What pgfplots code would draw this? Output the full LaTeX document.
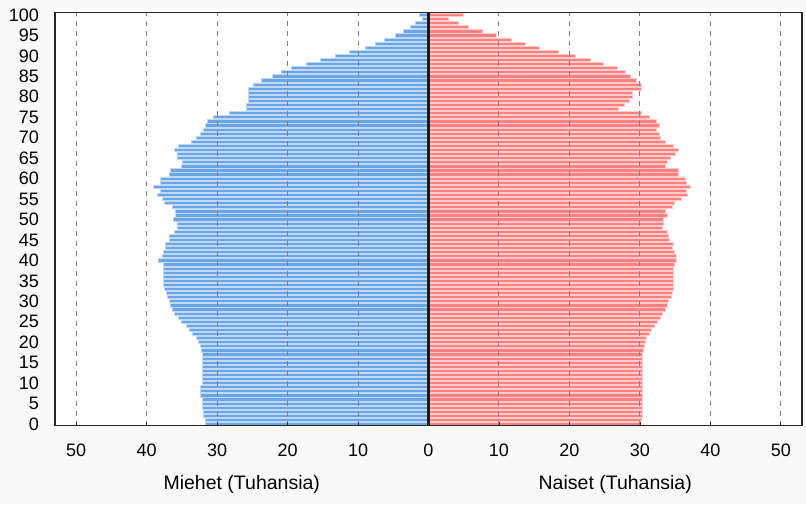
\documentclass[border=0pt]{standalone}
\usepackage{fontspec}
\setmainfont{Liberation Sans}
\usepackage{pgfplots}
\usepackage{pgfplotstable}
\pgfplotsset{compat=1.18}
\definecolor{mblue}{RGB}{106,165,229}
\definecolor{mbluel}{RGB}{192,216,243}
\definecolor{fred}{RGB}{255,128,128}
\definecolor{fredl}{RGB}{255,202,202}
\definecolor{bggray}{RGB}{249,249,249}
\pgfplotstableread{
age m f
0 31.6 30.1
1 31.7 30.2
2 31.9 30.4
3 32.0 30.4
4 32.1 30.4
5 32.1 30.4
6 32.1 30.4
7 32.4 30.4
8 32.4 30.4
9 32.3 30.4
10 32.1 30.4
11 32.1 30.4
12 32.1 30.4
13 32.1 30.4
14 32.1 30.4
15 32.1 30.4
16 32.1 30.4
17 32.1 30.4
18 32.2 30.5
19 32.4 30.6
20 32.7 30.8
21 32.9 30.9
22 33.5 31.3
23 33.9 31.6
24 34.4 32.1
25 35.0 32.5
26 35.5 32.9
27 36.0 33.2
28 36.4 33.6
29 36.6 33.9
30 36.8 34.1
31 37.0 34.4
32 37.2 34.6
33 37.5 34.7
34 37.6 34.7
35 37.6 34.7
36 37.6 34.7
37 37.6 34.7
38 37.6 34.7
39 37.6 34.9
40 38.3 35.2
41 37.8 35.2
42 37.6 34.9
43 37.3 34.6
44 37.3 34.7
45 36.7 34.2
46 36.7 34.1
47 36.0 33.9
48 35.7 33.2
49 35.7 33.4
50 36.2 33.4
51 35.9 33.9
52 35.9 33.6
53 36.4 34.6
54 37.5 34.9
55 37.8 35.9
56 38.5 36.8
57 38.0 36.6
58 39.0 37.1
59 38.0 36.6
60 38.0 36.4
61 36.7 35.4
62 36.6 35.4
63 35.0 33.6
64 34.9 33.9
65 35.7 34.3
66 35.7 35.0
67 36.0 35.5
68 35.5 34.8
69 33.7 33.6
70 33.0 32.9
71 32.3 32.8
72 32.0 32.3
73 31.6 32.8
74 31.4 32.3
75 30.5 31.3
76 28.3 30.2
77 25.8 27.0
78 25.8 27.8
79 25.6 28.5
80 25.6 28.9
81 25.6 28.9
82 25.6 30.2
83 24.9 30.2
84 23.7 29.5
85 22.2 28.7
86 20.9 28.0
87 19.5 26.8
88 17.3 24.8
89 15.3 23.0
90 13.2 20.9
91 11.2 18.4
92 8.9 15.7
93 7.5 13.8
94 6.2 11.8
95 4.7 9.6
96 3.5 7.7
97 2.5 5.7
98 1.8 4.3
99 0.9 2.8
100 1.3 5.0
}\pyramid
\begin{document}
\fontsize{18}{21}\selectfont
\begin{tikzpicture}
\path[use as bounding box, fill=bggray] (0,0) rectangle (806pt,504pt);
\begin{axis}[
  at={(55pt,78.3pt)}, anchor=south west,
  scale only axis, width=747pt, height=413pt,
  xmin=-53, xmax=53, ymin=-0.42, ymax=100.56,
  clip mode=individual,
  axis background/.style={fill=white},
  axis line style={line width=1.3pt, black!85},
  ytick={0,5,...,100},
  ytick style={draw=none},
  xtick={-50,-40,-30,-20,-10,10,20,30,40,50},
  extra x ticks={0},
  xticklabel={\pgfmathparse{abs(\tick)}\pgfmathprintnumber{\pgfmathresult}},
  xmajorgrids,
  grid style={gray, line width=1pt, dash pattern=on 5pt off 5pt},
  extra x tick style={grid=none},
  xtick pos=bottom, tick align=inside, major tick length=4pt,
  x tick style={black!80, line width=0.8pt},
  axis on top,
  /pgf/number format/assume math mode=true,
  ticklabel style={font=\fontsize{18}{21}\selectfont},
  yticklabel style={xshift=-10pt},
  xticklabel style={yshift=-12pt},
]
\addplot[xbar, bar width=3.2pt, bar shift=0pt, fill=mblue, draw=mbluel, line width=0.8pt]
  table[x expr=-\thisrow{m}, y=age] {\pyramid};
\addplot[xbar, bar width=3.2pt, bar shift=0pt, fill=fred, draw=fredl, line width=0.8pt]
  table[x=f, y=age] {\pyramid};
\draw[black!90, line width=2.2pt] (axis cs:0,-0.42) -- (axis cs:0,100.56);
\node[font=\fontsize{19.5}{22}\selectfont, yshift=-59pt] at (rel axis cs:0.25,0) {Miehet (Tuhansia)};
\node[font=\fontsize{19.5}{22}\selectfont, yshift=-59pt] at (rel axis cs:0.75,0) {Naiset (Tuhansia)};
\end{axis}
\end{tikzpicture}
\end{document}
